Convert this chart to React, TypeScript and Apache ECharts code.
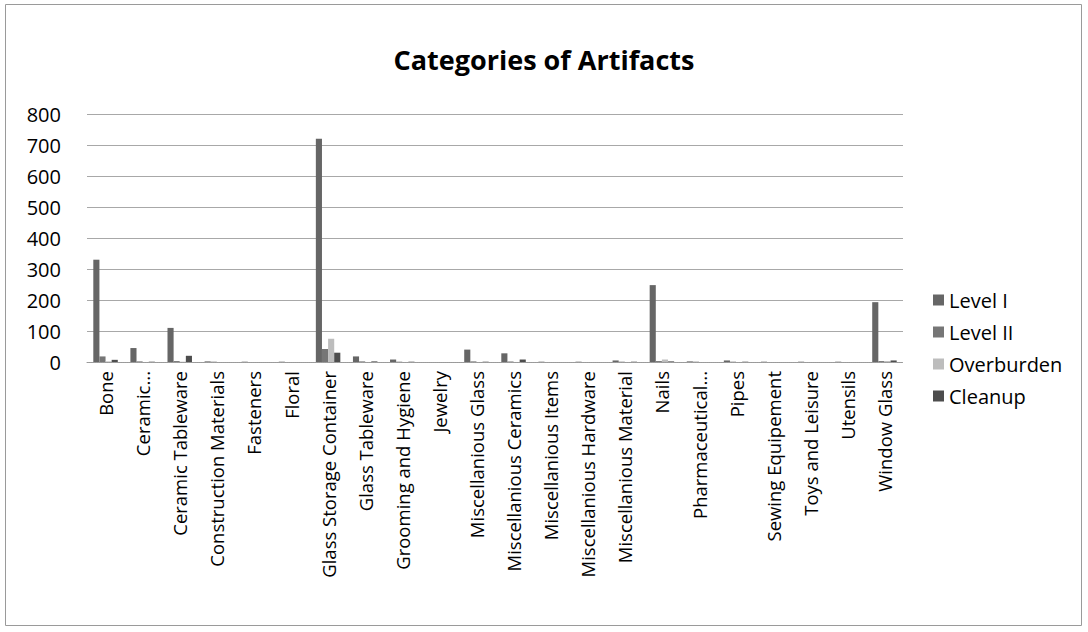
import React, { useEffect, useRef } from "react";
import * as echarts from "echarts";

const categories = [
  "Bone",
  "Ceramic...",
  "Ceramic Tableware",
  "Construction Materials",
  "Fasteners",
  "Floral",
  "Glass Storage Container",
  "Glass Tableware",
  "Grooming and Hygiene",
  "Jewelry",
  "Miscellanious Glass",
  "Miscellanious Ceramics",
  "Miscellanious Items",
  "Miscellanious Hardware",
  "Miscellanious Material",
  "Nails",
  "Pharmaceutical...",
  "Pipes",
  "Sewing Equipement",
  "Toys and Leisure",
  "Utensils",
  "Window Glass",
];

const levelI = [330, 45, 110, 2, 1, 1, 720, 18, 8, 0, 40, 28, 1, 1, 5, 248, 2, 5, 1, 1, 1, 193];
const levelII = [18, 2, 3, 1, 0, 0, 42, 2, 1, 0, 2, 2, 0, 0, 1, 3, 1, 1, 0, 0, 0, 3];
const overburden = [2, 0, 1, 0, 0, 0, 75, 0, 0, 0, 0, 0, 0, 0, 0, 8, 0, 0, 0, 0, 0, 3];
const cleanup = [7, 1, 20, 0, 0, 0, 30, 2, 1, 0, 1, 8, 0, 0, 1, 2, 0, 1, 0, 0, 0, 5];

const yTicks = { min: 0, max: 800, interval: 100 };

const FONT = "'Open Sans', 'Noto Sans', sans-serif";

export default function App() {
  const ref = useRef<HTMLDivElement>(null);

  useEffect(() => {
    if (!ref.current) return;
    const chart = echarts.init(ref.current, undefined, { renderer: "svg" });
    const mk = (name: string, data: number[], color: string) => ({
      name,
      type: "bar",
      data,
      barGap: "0%",
      barCategoryGap: "34%",
      itemStyle: { color },
    });
    chart.setOption({
      animation: false,
      backgroundColor: "#ffffff",
      textStyle: { fontFamily: FONT },
      title: {
        text: "Categories of Artifacts",
        left: "center",
        top: 41,
        textStyle: { fontFamily: FONT, fontWeight: "bold", fontSize: 27, color: "#000" },
      },
      legend: {
        orient: "vertical",
        left: 928,
        top: 285,
        itemWidth: 11,
        itemHeight: 11,
        itemGap: 12,
        icon: "rect",
        textStyle: { fontFamily: FONT, fontSize: 20, color: "#000" },
        data: ["Level I", "Level II", "Overburden", "Cleanup"],
      },
      graphic: [
        {
          type: "rect",
          shape: { x: 5.5, y: 4.5, width: 1076, height: 621 },
          style: { fill: "none", stroke: "#9a9a9a", lineWidth: 1 },
          silent: true,
        },
      ],
      grid: { left: 87, right: 185, top: 114, bottom: 270, containLabel: false },
      xAxis: {
        type: "category",
        data: categories,
        axisLine: { show: true, lineStyle: { color: "#999", type: "dotted" } },
        axisTick: { show: false },
        axisLabel: {
          rotate: 90,
          interval: 0,
          margin: 9,
          fontFamily: FONT,
          fontSize: 18.5,
          color: "#000",
        },
      },
      yAxis: {
        type: "value",
        min: yTicks.min,
        max: yTicks.max,
        interval: yTicks.interval,
        axisLine: { show: false },
        axisTick: { show: false },
        splitLine: { lineStyle: { color: "#a8a8a8", width: 1 } },
        axisLabel: { fontFamily: FONT, fontSize: 20, color: "#000", margin: 26 },
      },
      series: [
        mk("Level I", levelI, "#666666"),
        mk("Level II", levelII, "#767676"),
        mk("Overburden", overburden, "#bdbdbd"),
        mk("Cleanup", cleanup, "#4d4d4d"),
      ],
    });
    return () => chart.dispose();
  }, []);

  return (
    <div
      ref={ref}
      style={{ position: "fixed", left: 0, top: 0, width: 1088, height: 632, background: "#fff" }}
    />
  );
}
